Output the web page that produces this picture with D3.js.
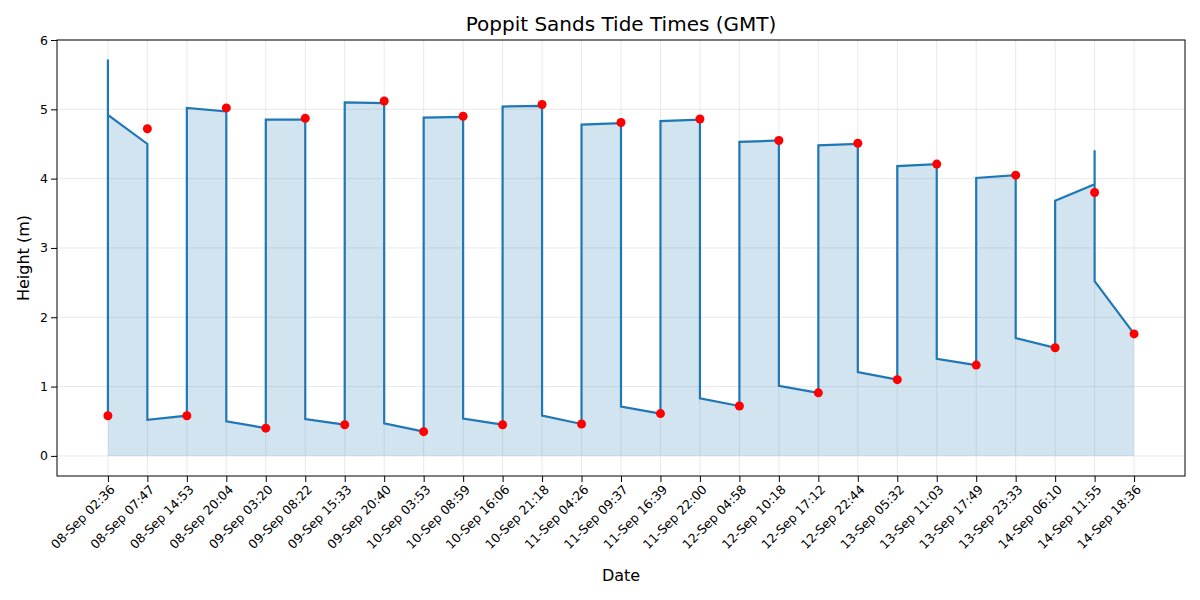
<!DOCTYPE html>
<html><head><meta charset="utf-8">
<script src="https://cdn.jsdelivr.net/npm/d3@7"></script>
<style>body{margin:0;background:#fff;font-family:"DejaVu Sans",sans-serif}</style>
</head><body><svg id="c" width="1200" height="600"></svg>
<script>
const labels=["08-Sep 02:36","08-Sep 07:47","08-Sep 14:53","08-Sep 20:04","09-Sep 03:20","09-Sep 08:22","09-Sep 15:33","09-Sep 20:40","10-Sep 03:53","10-Sep 08:59","10-Sep 16:06","10-Sep 21:18","11-Sep 04:26","11-Sep 09:37","11-Sep 16:39","11-Sep 22:00","12-Sep 04:58","12-Sep 10:18","12-Sep 17:12","12-Sep 22:44","13-Sep 05:32","13-Sep 11:03","13-Sep 17:49","13-Sep 23:33","14-Sep 06:10","14-Sep 11:55","14-Sep 18:36"];
const tideHeights=[0.58,4.72,0.58,5.02,0.4,4.87,0.45,5.12,0.35,4.9,0.45,5.07,0.46,4.81,0.61,4.86,0.72,4.55,0.91,4.51,1.1,4.21,1.31,4.05,1.56,3.8,1.76];
const lineIdx=[0,0,0,1,1,2,2,3,3,4,4,5,5,6,6,7,7,8,8,9,9,10,10,11,11,12,12,13,13,14,14,15,15,16,16,17,17,18,18,19,19,20,20,21,21,22,22,23,23,24,24,25,25,25,26];
const lineVal=[0.58,5.72,4.92,4.5,0.52,0.58,5.02,4.97,0.5,0.4,4.85,4.85,0.53,0.45,5.1,5.09,0.47,0.35,4.88,4.89,0.54,0.45,5.04,5.05,0.58,0.46,4.78,4.8,0.71,0.61,4.83,4.85,0.83,0.72,4.53,4.55,1.01,0.91,4.48,4.5,1.21,1.1,4.18,4.21,1.4,1.31,4.01,4.05,1.7,1.56,3.68,3.92,4.41,2.52,1.76];
const yTicks=[0,1,2,3,4,5,6];
const svg=d3.select("#c");
const L=57,R=1185,T=40,B=476;
const x=d3.scaleLinear().domain([-1.29,27.29]).range([L,R]);
const y=d3.scaleLinear().domain([-0.29,6]).range([B,T]);
const g=svg.append("g");
g.selectAll(".gx").data(labels).join("line").attr("x1",(d,i)=>x(i)).attr("x2",(d,i)=>x(i)).attr("y1",T).attr("y2",B).attr("stroke","#e3e3e3").attr("stroke-width",0.8);
g.selectAll(".gy").data(yTicks).join("line").attr("x1",L).attr("x2",R).attr("y1",d=>y(d)).attr("y2",d=>y(d)).attr("stroke","#e3e3e3").attr("stroke-width",0.8);
const pts=lineIdx.map((v,i)=>[v,lineVal[i]]);
svg.append("path").datum(pts).attr("d",d3.area().x(d=>x(d[0])).y0(y(0)).y1(d=>y(d[1]))).attr("fill","#1f77b4").attr("fill-opacity",0.2);
svg.append("path").datum(pts).attr("d",d3.line().x(d=>x(d[0])).y(d=>y(d[1]))).attr("fill","none").attr("stroke","#1f77b4").attr("stroke-width",2.2);
svg.selectAll(".dot").data(tideHeights).join("circle").attr("cx",(d,i)=>x(i)).attr("cy",d=>y(d)).attr("r",4.5).attr("fill","red");
svg.append("rect").attr("x",L).attr("y",T).attr("width",R-L).attr("height",B-T).attr("fill","none").attr("stroke","#000").attr("stroke-width",1);
const xa=svg.append("g").attr("transform",`translate(0,${B})`).call(d3.axisBottom(x).tickValues(d3.range(labels.length)).tickFormat(i=>labels[i]).tickSizeOuter(0));
xa.select(".domain").remove();
xa.selectAll("text").attr("font-size",12.5).attr("font-family","DejaVu Sans").attr("text-anchor","end").attr("transform","rotate(-45)").attr("dx","-0.4em").attr("dy","0.5em");
const ya=svg.append("g").attr("transform",`translate(${L},0)`).call(d3.axisLeft(y).tickValues(yTicks).tickFormat(d3.format("d")).tickSizeOuter(0));
ya.select(".domain").remove();
ya.selectAll("text").attr("font-size",12.5).attr("font-family","DejaVu Sans");
svg.append("text").attr("x",(L+R)/2).attr("y",31).attr("text-anchor","middle").attr("font-size",20).text("Poppit Sands Tide Times (GMT)");
svg.append("text").attr("x",(L+R)/2).attr("y",581).attr("text-anchor","middle").attr("font-size",16).text("Date");
svg.append("text").attr("transform","translate(29,258) rotate(-90)").attr("text-anchor","middle").attr("font-size",16).text("Height (m)");
</script></body></html>
